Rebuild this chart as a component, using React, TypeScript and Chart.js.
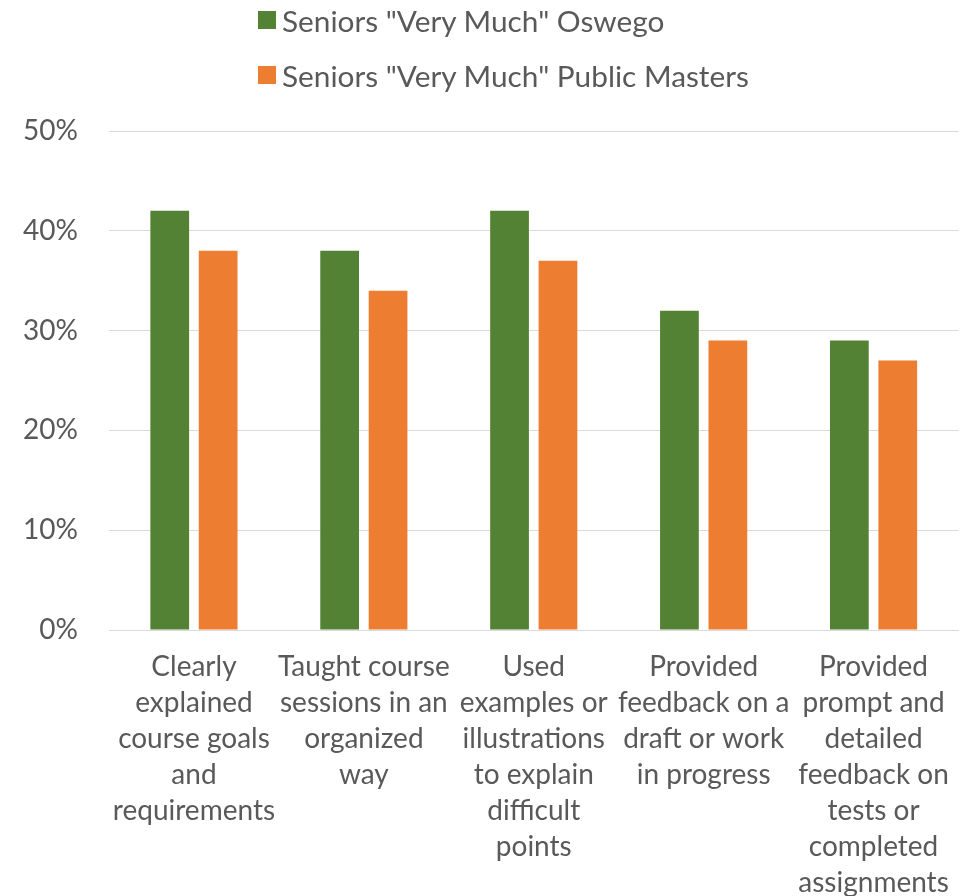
import React, { useEffect, useRef } from "react";
import { Chart, registerables } from "chart.js";

Chart.register(...registerables);

const categories: string[][] = [
  ["Clearly", "explained", "course goals", "and", "requirements"],
  ["Taught course", "sessions in an", "organized", "way"],
  ["Used", "examples or", "illustrations", "to explain", "difficult", "points"],
  ["Provided", "feedback on a", "draft or work", "in progress"],
  ["Provided", "prompt and", "detailed", "feedback on", "tests or", "completed", "assignments"],
];
const oswego: number[] = [42, 38, 42, 32, 29];
const publicMasters: number[] = [38, 34, 37, 29, 27];
const seriesNames: string[] = ['Seniors "Very Much" Oswego', 'Seniors "Very Much" Public Masters'];
const seriesColors: string[] = ["#548235", "#ED7D31"];

const FONT = "Lato";
const TEXT = "#595959";

export default function App() {
  const ref = useRef<HTMLCanvasElement | null>(null);
  useEffect(() => {
    if (!ref.current) return;
    const chart = new Chart(ref.current, {
      type: "bar",
      data: {
        labels: categories,
        datasets: [
          { label: seriesNames[0], data: oswego, backgroundColor: seriesColors[0] },
          { label: seriesNames[1], data: publicMasters, backgroundColor: seriesColors[1] },
        ],
      },
      options: {
        animation: false,
        responsive: false,
        maintainAspectRatio: false,
        layout: { padding: { top: 131, right: 4.5, left: 0, bottom: 0 } },
        datasets: { bar: { categoryPercentage: 0.57, barPercentage: 0.8 } },
        plugins: { legend: { display: false }, tooltip: { enabled: false } },
        scales: {
          x: {
            grid: { display: false, drawTicks: false },
            border: { display: true, color: "#d9d9d9", width: 1 },
            ticks: {
              color: TEXT,
              padding: 19,
              maxRotation: 0,
              autoSkip: false,
              font: { family: FONT, size: 28, lineHeight: 36 / 28 },
            },
            afterFit: (s: any) => {
              s.height = 266;
              s.paddingLeft = 0;
              s.paddingRight = 0;
            },
          },
          y: {
            min: 0,
            max: 50,
            grid: { color: "#d9d9d9", lineWidth: 1, drawTicks: false },
            border: { display: false },
            ticks: {
              stepSize: 10,
              color: TEXT,
              padding: 31,
              font: { family: FONT, size: 28 },
              callback: (v: any) => v + "%",
            },
            afterFit: (s: any) => {
              s.width = 109;
              s.paddingTop = 0;
              s.paddingBottom = 0;
            },
          },
        },
      },
    });
    return () => chart.destroy();
  }, []);

  return (
    <div style={{ position: "absolute", left: 0, top: 0, width: 963, height: 896, background: "#fff" }}>
      <canvas ref={ref} width={963} height={896} style={{ position: "absolute", left: 0, top: 0 }} />
      <div style={{ position: "absolute", left: 258, top: -2, fontFamily: FONT, fontSize: 29.8, color: TEXT }}>
        {seriesNames.map((n, i) => (
          <div key={n} style={{ display: "flex", alignItems: "center", height: 44, marginTop: i === 0 ? 0 : 11 }}>
            <span style={{ display: "inline-block", width: 18, height: 18, background: seriesColors[i], marginRight: 6 }} />
            <span style={{ whiteSpace: "nowrap" }}>{n}</span>
          </div>
        ))}
      </div>
    </div>
  );
}
